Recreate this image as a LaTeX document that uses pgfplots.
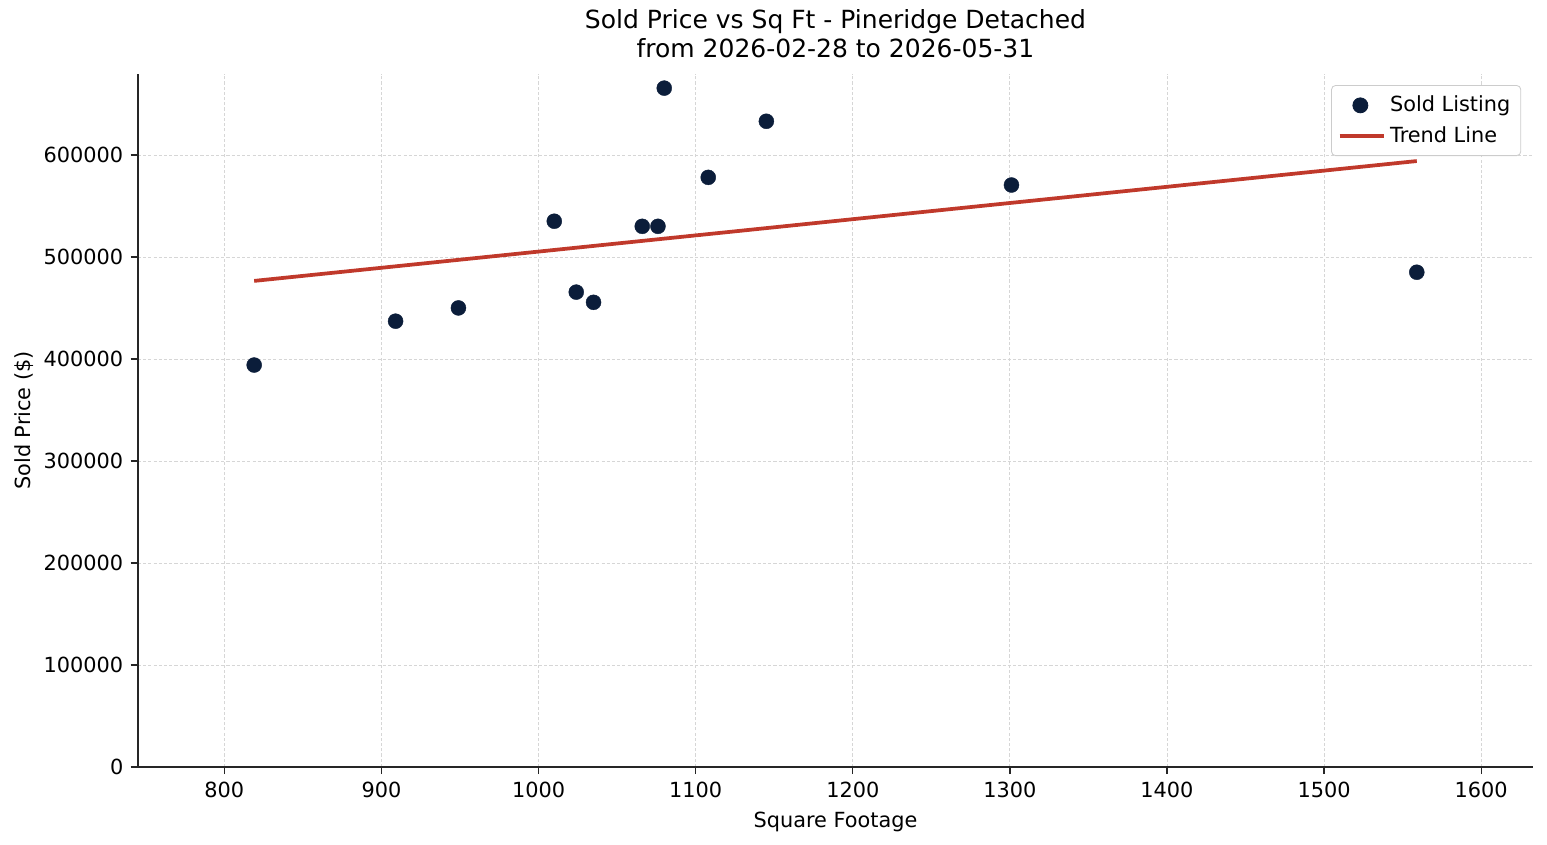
\documentclass[border=0pt]{standalone}
\usepackage{pgfplots}
\pgfplotsset{compat=1.18}
\usepackage{fontspec}
\setmainfont{DejaVu Sans}
\definecolor{navy}{HTML}{0B1D3A}
\definecolor{trend}{HTML}{C0392B}
\definecolor{gridc}{HTML}{D6D6D6}
\begin{document}
\begin{tikzpicture}
\begin{axis}[
  scale only axis,
  width=669.6pt, height=332.6pt,
  xmin=745, xmax=1633, ymin=0, ymax=679400,
  axis x line*=bottom, axis y line*=left,
  axis line style={black!85, line width=0.6pt},
  xtick={800,900,...,1600},
  ytick={0,100000,...,600000},
  tick align=outside,
  major tick length=3.5pt,
  tick style={black!85, line width=0.6pt},
  /pgf/number format/assume math mode=true,
  /pgf/number format/fixed,
  /pgf/number format/1000 sep={},
  scaled y ticks=false,
  ticklabel style={font=\fontsize{10}{12}\selectfont},
  grid=major,
  grid style={gridc, dash pattern=on 1.5pt off 1pt, line width=0.4pt},
  xlabel={Square Footage},
  ylabel={Sold Price (\$)},
  label style={font=\fontsize{10}{12}\selectfont},
  xlabel style={yshift=0pt},
  ylabel style={yshift=-2pt},
  title={Sold Price vs Sq Ft - Pineridge Detached\\from 2026-02-28 to 2026-05-31},
  title style={font=\fontsize{12}{14}\selectfont, align=center, yshift=-2pt},
  legend style={at={(0.9915,0.984)}, anchor=north east, draw=black!20, rounded corners=2pt,
    font=\fontsize{10}{14}\selectfont, fill=white, inner xsep=3pt, inner ysep=3pt,
    row sep=1.5pt},
  legend cell align=left,
]
\addplot[only marks, mark=*, mark size=3.6pt, mark options={fill=navy, draw=navy, line width=0.2pt},
  legend image code/.code={\draw[mark=*, mark size=3.6pt, mark options={fill=navy,draw=navy}] plot coordinates {(0.35cm,0cm)};}]
coordinates {
(819,394000) (909,437000) (949,450000) (1010,535000) (1024,465500) (1035,455500)
(1066,530000) (1076,530000) (1080,665500) (1108,578000) (1145,633000)
(1301,570500) (1559,485000)
};
\addlegendentry{Sold Listing}
\addplot[trend, line width=1.8pt,
  legend image code/.code={\draw[trend, line width=1.8pt] (0cm,0cm) -- (0.75cm,0cm);}]
  coordinates {(819,476500) (1559,594000)};
\addlegendentry{Trend Line}
\end{axis}
\pgfresetboundingbox
\useasboundingbox ([shift={(-66.2pt,-37.4pt)}]current axis.south west) rectangle ([shift={(6.7pt,35.5pt)}]current axis.north east);
\end{tikzpicture}
\end{document}
